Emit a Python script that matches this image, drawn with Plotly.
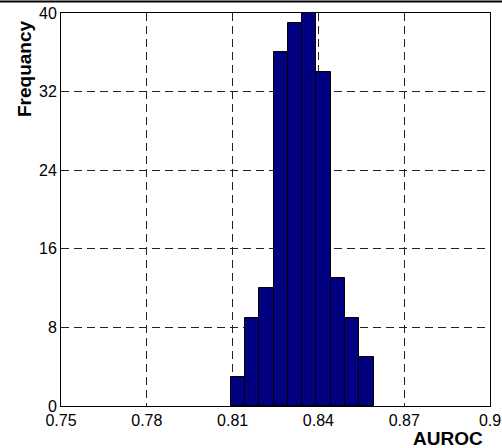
import plotly.graph_objects as go

# Histogram data (bin left edges, width and counts)
bin_left = [0.8093, 0.8143, 0.8193, 0.8243, 0.8293, 0.8343, 0.8393, 0.8443, 0.8493, 0.8543]
bin_width = 0.005
counts = [3, 9, 12, 36, 39, 40, 34, 13, 9, 5]

x_ticks = [0.75, 0.78, 0.81, 0.84, 0.87, 0.90]
x_tick_labels = ["0.75", "0.78", "0.81", "0.84", "0.87", "0.9"]
y_ticks = [0, 8, 16, 24, 32, 40]

fig = go.Figure()
fig.add_trace(go.Bar(
    x=bin_left, y=counts, width=[bin_width] * len(counts), offset=0,
    marker=dict(color="#000080", line=dict(color="black", width=1)),
    showlegend=False, hoverinfo="skip",
))

FAM = "Liberation Sans, Arial, Helvetica, sans-serif"
tick_font = dict(family=FAM, size=16, color="black")
title_font = dict(family=FAM, size=19, color="black")

ML, MT, MR, MB = 61, 13, 12, 42
PH = 448 - MT - MB
PW = 502 - ML - MR

fig.update_layout(
    width=502, height=448,
    margin=dict(l=ML, r=MR, t=MT, b=MB, autoexpand=False),
    paper_bgcolor="white", plot_bgcolor="white",
    font=tick_font,
    bargap=0,
    hovermode=False,
    xaxis=dict(
        range=[0.75, 0.90], tickvals=x_ticks, ticktext=x_tick_labels,
        showgrid=True, gridcolor="#222222", gridwidth=1, griddash="8px,5px",
        showline=True, linecolor="black", linewidth=1, mirror=True,
        ticks="", zeroline=False, tickfont=tick_font, automargin=False,
    ),
    yaxis=dict(
        range=[0, 40], tickvals=y_ticks,
        showgrid=True, gridcolor="#222222", gridwidth=1, griddash="8px,5px",
        showline=True, linecolor="black", linewidth=1, mirror=True,
        ticks="", zeroline=False, tickfont=tick_font, automargin=False,
    ),
    annotations=[
        dict(text="<b>AUROC</b>", xref="paper", yref="paper",
             x=(447.5 - ML) / PW, y=(MT + PH - 438.5) / PH,
             xanchor="center", yanchor="middle", showarrow=False, font=title_font),
        dict(text="<b>Frequancy</b>", xref="paper", yref="paper",
             x=(24 - ML) / PW, y=(MT + PH - 69) / PH,
             xanchor="center", yanchor="middle", textangle=-90, showarrow=False,
             font=title_font),
    ],
    shapes=[
        dict(type="line", xref="paper", yref="paper", x0=-ML / PW, x1=1 + MR / PW,
             y0=(MT + PH - 1.5) / PH, y1=(MT + PH - 1.5) / PH,
             line=dict(color="black", width=2)),
    ],
)

fig.write_html(
    "out.html",
    config={"displayModeBar": False},
    post_script="document.body.style.margin='0';document.body.style.padding='0';",
)
